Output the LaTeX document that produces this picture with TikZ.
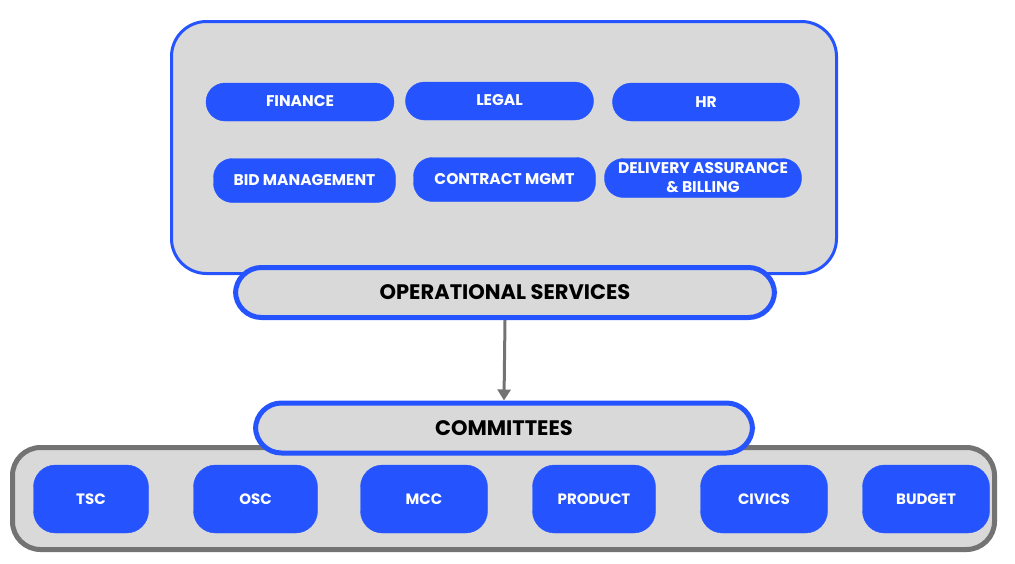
\documentclass[tikz,border=0pt]{standalone}
\usepackage{fontspec}
\setmainfont{Poppins}
\usetikzlibrary{arrows.meta}
\definecolor{bleu}{HTML}{2554FF}
\definecolor{gris}{HTML}{D9D9D9}
\definecolor{grisfonce}{HTML}{737373}
\tikzset{
  cadre/.style={fill=gris, line width=3pt, rounded corners=35pt, inner sep=0pt},
  bandeau/.style={draw=bleu, fill=gris, line width=5pt, rounded corners=26pt, inner sep=0pt,
    minimum height=50pt, font=\bfseries\fontsize{21}{21}\selectfont},
  service/.style={draw=bleu, fill=bleu, rounded corners=19pt, inner sep=0pt, text=white,
    minimum height=38pt, align=center, font=\bfseries\fontsize{15.5}{19}\selectfont},
  comite/.style={draw=bleu, fill=bleu, rounded corners=22pt, inner sep=0pt, text=white,
    minimum height=68pt, font=\bfseries\fontsize{15}{15}\selectfont}
}
\begin{document}
\begin{tikzpicture}[x=1pt,y=-1pt]
  \useasboundingbox (0,0) rectangle (1015,563);
  % services
  \node [cadre, draw=bleu, minimum width=665pt, minimum height=252pt] (haut) at (504,147.5) {};
  \node [service, minimum width=188pt] (finance) at (300,102) {\raisebox{2pt}{FINANCE}};
  \node [service, minimum width=188pt] (legal) at (499.5,101) {\raisebox{2pt}{LEGAL}};
  \node [service, minimum width=187pt] (hr) at (706,102) {HR};
  \node [service, minimum width=182pt, minimum height=44pt] (bid) at (304.5,180.5) {\raisebox{2pt}{BID MANAGEMENT}};
  \node [service, minimum width=182pt, minimum height=44pt] (contrat) at (504.5,179.5) {CONTRACT MGMT};
  \node [service, minimum width=197pt, minimum height=39pt] (delivery) at (703,178) {DELIVERY ASSURANCE\\\& BILLING};
  \node [bandeau, minimum width=539pt] (opsvc) at (505,292.5) {OPERATIONAL SERVICES};
  % comites
  \node [cadre, draw=grisfonce, line width=5pt, rounded corners=28pt, minimum width=982pt, minimum height=102pt] (bas) at (503.5,498.5) {};
  \node [bandeau, minimum width=497pt] (comm) at (504,428) {COMMITTEES};
  \node [comite, minimum width=115pt] (tsc) at (91,499) {TSC};
  \node [comite, minimum width=124pt] (osc) at (255.5,499) {OSC};
  \node [comite, minimum width=127pt] (mcc) at (424,499) {MCC};
  \node [comite, minimum width=123pt] (product) at (594,499) {PRODUCT};
  \node [comite, minimum width=127pt] (civics) at (764,499) {CIVICS};
  \node [comite, minimum width=127pt] (budget) at (926,499) {BUDGET};
  \draw [grisfonce, line width=3pt, -{Triangle[length=11pt,width=13pt]}] (opsvc.south) -- (comm.north);
\end{tikzpicture}
\end{document}
